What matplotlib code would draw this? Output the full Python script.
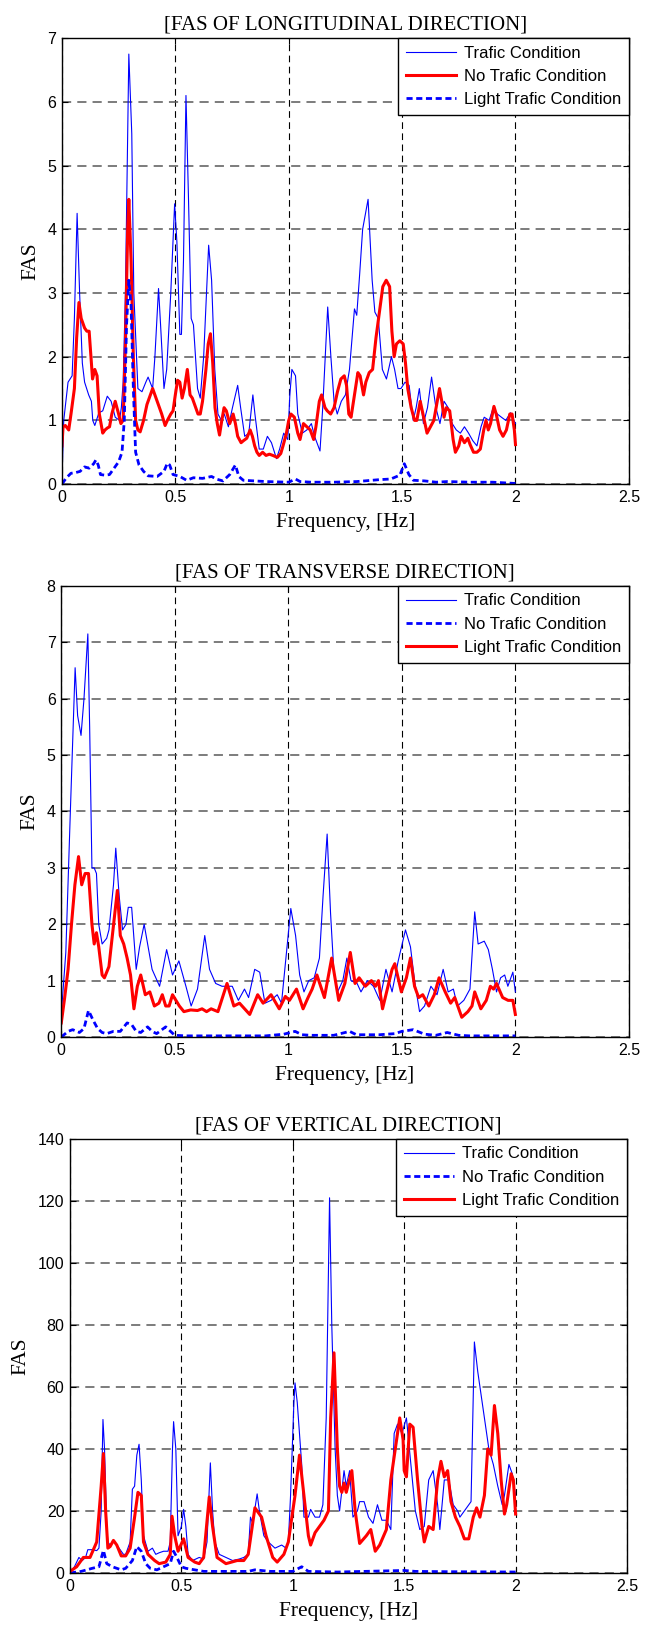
import matplotlib
matplotlib.use('Agg')
import matplotlib.pyplot as plt
import numpy as np
from matplotlib.ticker import FormatStrFormatter

# ---- data: (frequency [Hz], FAS) pairs ----

# longitudinal
long_trafic = [
    (0.0, 0.05), (0.008, 1.0), (0.027, 1.6), (0.045, 1.7), (0.055, 2.6), (0.067, 4.25),
    (0.078, 3.0), (0.09, 1.9), (0.1, 1.6), (0.118, 1.4), (0.13, 1.3), (0.136, 1.0),
    (0.145, 0.92), (0.163, 1.12), (0.18, 1.15), (0.2, 1.38), (0.217, 1.3), (0.235, 1.05),
    (0.254, 1.0), (0.262, 1.2), (0.27, 1.6), (0.28, 3.0), (0.295, 6.75), (0.308, 5.5),
    (0.317, 3.0), (0.335, 1.5), (0.353, 1.45), (0.37, 1.6), (0.38, 1.68), (0.4, 1.5),
    (0.41, 2.0), (0.426, 3.07), (0.435, 2.5), (0.45, 1.5), (0.462, 1.8), (0.48, 3.0),
    (0.497, 4.4), (0.507, 3.8), (0.52, 2.35), (0.527, 2.35), (0.536, 3.5), (0.547, 6.1),
    (0.558, 4.5), (0.57, 2.6), (0.58, 2.5), (0.598, 1.5), (0.61, 1.35), (0.625, 2.0),
    (0.647, 3.75), (0.66, 3.2), (0.674, 1.8), (0.688, 1.1), (0.703, 1.0), (0.716, 1.1),
    (0.734, 0.9), (0.752, 1.2), (0.775, 1.55), (0.788, 1.2), (0.806, 0.75), (0.824, 0.8),
    (0.842, 1.4), (0.851, 1.1), (0.87, 0.55), (0.888, 0.55), (0.906, 0.75), (0.924, 0.65),
    (0.946, 0.4), (0.96, 0.55), (0.978, 0.8), (0.996, 0.7), (1.005, 1.4), (1.014, 1.8),
    (1.03, 1.7), (1.04, 1.1), (1.06, 0.8), (1.08, 0.85), (1.1, 0.95), (1.114, 0.75),
    (1.138, 0.52), (1.15, 1.2), (1.172, 2.78), (1.186, 2.0), (1.2, 1.3), (1.214, 1.1),
    (1.232, 1.3), (1.25, 1.4), (1.268, 1.8), (1.29, 2.75), (1.3, 2.65), (1.313, 3.3),
    (1.326, 4.0), (1.35, 4.47), (1.368, 3.2), (1.38, 2.7), (1.395, 2.6), (1.413, 1.8),
    (1.431, 1.65), (1.453, 2.0), (1.467, 1.8), (1.482, 1.5), (1.495, 1.5), (1.513, 1.6),
    (1.531, 1.55), (1.549, 1.0), (1.562, 1.2), (1.576, 1.5), (1.594, 0.95), (1.612, 1.2),
    (1.63, 1.68), (1.649, 1.2), (1.667, 0.95), (1.685, 1.3), (1.703, 1.2), (1.721, 0.95),
    (1.739, 0.85), (1.757, 0.8), (1.775, 0.9), (1.793, 0.8), (1.812, 0.68), (1.83, 0.6),
    (1.848, 0.9), (1.862, 1.05), (1.884, 1.0), (1.902, 1.2), (1.92, 1.1), (1.938, 1.05),
    (1.957, 1.0), (1.978, 1.12), (1.993, 1.0), (2.0, 0.95),
]
long_no_trafic = [
    (0.0, 0.6), (0.005, 0.9), (0.015, 0.92), (0.03, 0.85), (0.04, 1.1), (0.055, 1.5),
    (0.065, 2.3), (0.075, 2.85), (0.085, 2.6), (0.1, 2.45), (0.11, 2.4), (0.12, 2.4),
    (0.135, 1.65), (0.145, 1.8), (0.155, 1.7), (0.165, 1.1), (0.18, 0.8), (0.19, 0.85),
    (0.2, 0.88), (0.21, 0.9), (0.22, 1.1), (0.235, 1.3), (0.25, 1.1), (0.26, 0.95),
    (0.27, 1.0), (0.28, 2.2), (0.29, 4.0), (0.295, 4.47), (0.305, 3.5), (0.315, 2.0),
    (0.325, 1.0), (0.335, 0.85), (0.345, 0.82), (0.36, 1.0), (0.375, 1.25), (0.39, 1.4),
    (0.4, 1.5), (0.41, 1.4), (0.42, 1.3), (0.43, 1.2), (0.44, 1.1), (0.455, 0.92),
    (0.465, 1.0), (0.48, 1.1), (0.49, 1.15), (0.5, 1.4), (0.51, 1.63), (0.52, 1.6),
    (0.53, 1.35), (0.54, 1.5), (0.553, 1.8), (0.565, 1.4), (0.575, 1.35), (0.59, 1.2),
    (0.6, 1.1), (0.61, 1.1), (0.62, 1.3), (0.635, 1.8), (0.645, 2.2), (0.655, 2.36),
    (0.665, 1.9), (0.675, 1.2), (0.685, 0.95), (0.695, 0.77), (0.705, 1.0), (0.715, 1.2),
    (0.725, 1.15), (0.74, 0.95), (0.755, 1.1), (0.765, 0.95), (0.775, 0.75), (0.79, 0.65),
    (0.8, 0.68), (0.815, 0.72), (0.83, 0.85), (0.84, 0.75), (0.85, 0.6), (0.86, 0.5),
    (0.87, 0.45), (0.885, 0.5), (0.9, 0.45), (0.915, 0.47), (0.93, 0.45), (0.95, 0.42),
    (0.965, 0.48), (0.975, 0.6), (0.99, 0.8), (1.0, 1.0), (1.01, 1.1), (1.025, 1.05),
    (1.04, 0.8), (1.05, 0.7), (1.065, 0.95), (1.08, 0.9), (1.095, 0.85), (1.11, 0.7),
    (1.12, 0.9), (1.135, 1.3), (1.145, 1.4), (1.16, 1.2), (1.17, 1.15), (1.185, 1.1),
    (1.2, 1.2), (1.215, 1.45), (1.23, 1.65), (1.245, 1.7), (1.255, 1.55), (1.265, 1.1),
    (1.275, 1.05), (1.29, 1.4), (1.305, 1.75), (1.315, 1.7), (1.33, 1.4), (1.34, 1.6),
    (1.355, 1.75), (1.37, 1.8), (1.385, 2.3), (1.4, 2.7), (1.415, 3.1), (1.43, 3.2),
    (1.445, 3.1), (1.455, 2.4), (1.465, 2.0), (1.475, 2.2), (1.49, 2.25), (1.505, 2.2),
    (1.515, 1.9), (1.525, 1.5), (1.54, 1.2), (1.555, 1.0), (1.565, 1.0), (1.58, 1.3),
    (1.595, 1.05), (1.61, 0.8), (1.625, 0.9), (1.64, 1.0), (1.655, 1.3), (1.665, 1.5),
    (1.675, 1.3), (1.685, 1.05), (1.695, 1.2), (1.71, 1.15), (1.725, 0.7), (1.735, 0.5),
    (1.75, 0.6), (1.76, 0.75), (1.775, 0.65), (1.79, 0.72), (1.8, 0.62), (1.815, 0.5),
    (1.83, 0.5), (1.845, 0.55), (1.86, 0.85), (1.87, 1.0), (1.88, 0.85), (1.89, 0.95),
    (1.905, 1.22), (1.915, 1.1), (1.93, 0.85), (1.945, 0.75), (1.96, 0.85), (1.975, 1.1),
    (1.985, 1.1), (1.995, 0.85), (2.0, 0.62),
]
long_light = [
    (0.0, 0.0), (0.02, 0.1), (0.04, 0.17), (0.06, 0.18), (0.08, 0.2), (0.1, 0.27),
    (0.12, 0.25), (0.14, 0.32), (0.15, 0.38), (0.16, 0.3), (0.17, 0.15), (0.19, 0.14),
    (0.21, 0.15), (0.23, 0.25), (0.25, 0.35), (0.265, 0.5), (0.275, 1.0), (0.285, 2.5),
    (0.295, 3.2), (0.305, 2.8), (0.315, 1.5), (0.325, 0.5), (0.34, 0.3), (0.36, 0.2),
    (0.38, 0.13), (0.42, 0.12), (0.45, 0.2), (0.465, 0.33), (0.475, 0.3), (0.49, 0.15),
    (0.52, 0.12), (0.55, 0.06), (0.58, 0.1), (0.62, 0.09), (0.66, 0.12), (0.68, 0.08),
    (0.71, 0.05), (0.74, 0.15), (0.765, 0.3), (0.78, 0.12), (0.8, 0.06), (0.85, 0.05),
    (0.9, 0.04), (1.0, 0.03), (1.03, 0.08), (1.05, 0.04), (1.1, 0.03), (1.2, 0.03),
    (1.3, 0.04), (1.4, 0.07), (1.45, 0.08), (1.49, 0.14), (1.51, 0.32), (1.53, 0.15),
    (1.55, 0.06), (1.6, 0.05), (1.65, 0.03), (1.7, 0.04), (1.8, 0.03), (1.9, 0.03),
    (2.0, 0.01),
]

# transverse
trans_trafic = [
    (0.0, 0.4), (0.02, 1.5), (0.04, 4.0), (0.061, 6.55), (0.072, 5.7), (0.087, 5.35),
    (0.1, 6.0), (0.117, 7.15), (0.125, 5.5), (0.135, 3.0), (0.145, 3.0), (0.155, 2.9),
    (0.165, 2.0), (0.18, 1.65), (0.2, 1.75), (0.21, 1.9), (0.23, 2.7), (0.24, 3.35),
    (0.255, 2.5), (0.27, 1.9), (0.285, 2.0), (0.295, 2.3), (0.31, 2.3), (0.33, 1.2),
    (0.345, 1.6), (0.365, 2.0), (0.4, 1.2), (0.433, 0.9), (0.464, 1.55), (0.49, 1.1),
    (0.518, 1.35), (0.549, 0.9), (0.572, 0.55), (0.6, 0.85), (0.632, 1.8), (0.653, 1.2),
    (0.68, 0.95), (0.708, 0.9), (0.753, 0.9), (0.78, 0.65), (0.807, 0.85), (0.825, 0.7),
    (0.852, 1.2), (0.874, 1.15), (0.897, 0.6), (0.924, 0.65), (0.951, 0.75), (0.97, 0.6),
    (0.987, 1.3), (1.011, 2.28), (1.032, 1.8), (1.05, 1.1), (1.069, 0.8), (1.09, 1.0),
    (1.114, 1.05), (1.137, 1.4), (1.153, 2.5), (1.171, 3.6), (1.186, 2.2), (1.2, 1.2),
    (1.217, 0.8), (1.24, 1.0), (1.258, 1.4), (1.276, 1.0), (1.303, 0.95), (1.32, 0.8),
    (1.348, 1.0), (1.375, 0.9), (1.403, 0.65), (1.43, 1.2), (1.457, 0.8), (1.484, 1.35),
    (1.516, 1.9), (1.538, 1.6), (1.556, 1.0), (1.578, 0.45), (1.6, 0.55), (1.628, 0.9),
    (1.655, 0.75), (1.682, 1.2), (1.704, 0.8), (1.727, 0.85), (1.745, 0.55), (1.773, 0.65),
    (1.8, 0.85), (1.821, 2.22), (1.836, 1.65), (1.863, 1.7), (1.881, 1.55), (1.899, 1.2),
    (1.917, 0.8), (1.935, 1.05), (1.953, 1.1), (1.967, 0.9), (1.989, 1.15), (2.0, 0.8),
]
trans_no_trafic = [
    (0.0, 0.0), (0.03, 0.1), (0.05, 0.13), (0.08, 0.08), (0.1, 0.15), (0.12, 0.47),
    (0.14, 0.3), (0.16, 0.15), (0.18, 0.08), (0.2, 0.06), (0.23, 0.1), (0.26, 0.1),
    (0.29, 0.25), (0.31, 0.22), (0.33, 0.1), (0.35, 0.08), (0.38, 0.18), (0.4, 0.1),
    (0.42, 0.06), (0.46, 0.18), (0.5, 0.03), (0.55, 0.02), (0.6, 0.02), (0.7, 0.02),
    (0.8, 0.02), (0.9, 0.02), (0.98, 0.05), (1.03, 0.1), (1.06, 0.04), (1.1, 0.03),
    (1.2, 0.03), (1.27, 0.1), (1.3, 0.04), (1.4, 0.04), (1.47, 0.06), (1.5, 0.1),
    (1.55, 0.13), (1.6, 0.05), (1.65, 0.03), (1.7, 0.08), (1.75, 0.03), (1.8, 0.02),
    (2.0, 0.02),
]
trans_light = [
    (0.0, 0.25), (0.015, 0.7), (0.03, 1.2), (0.045, 2.0), (0.06, 2.7), (0.076, 3.2),
    (0.09, 2.7), (0.105, 2.9), (0.12, 2.9), (0.135, 2.0), (0.145, 1.65), (0.155, 1.85),
    (0.165, 1.6), (0.18, 1.1), (0.19, 1.05), (0.21, 1.25), (0.225, 1.8), (0.247, 2.6),
    (0.26, 1.8), (0.275, 1.65), (0.29, 1.4), (0.305, 1.1), (0.32, 0.5), (0.335, 0.9),
    (0.35, 1.1), (0.37, 0.75), (0.39, 0.8), (0.41, 0.55), (0.43, 0.6), (0.445, 0.75),
    (0.46, 0.55), (0.475, 0.55), (0.49, 0.75), (0.52, 0.55), (0.54, 0.45), (0.57, 0.48),
    (0.6, 0.47), (0.62, 0.5), (0.64, 0.45), (0.66, 0.5), (0.69, 0.45), (0.73, 0.95),
    (0.76, 0.55), (0.785, 0.6), (0.83, 0.4), (0.865, 0.75), (0.889, 0.6), (0.924, 0.75),
    (0.96, 0.5), (0.987, 0.72), (1.005, 0.65), (1.036, 0.85), (1.065, 0.5), (1.087, 0.7),
    (1.105, 0.85), (1.126, 1.1), (1.159, 0.7), (1.191, 1.4), (1.222, 0.65), (1.249, 0.95),
    (1.273, 1.5), (1.294, 0.95), (1.312, 1.05), (1.339, 0.9), (1.366, 1.0), (1.384, 0.9),
    (1.397, 1.0), (1.415, 0.5), (1.439, 0.9), (1.457, 1.2), (1.469, 1.3), (1.498, 0.8),
    (1.52, 1.05), (1.538, 1.4), (1.556, 0.9), (1.574, 0.7), (1.592, 0.75), (1.619, 0.55),
    (1.643, 0.75), (1.664, 1.05), (1.691, 0.8), (1.715, 0.6), (1.733, 0.7), (1.764, 0.35),
    (1.791, 0.45), (1.809, 0.55), (1.821, 0.8), (1.848, 0.5), (1.872, 0.65), (1.89, 0.9),
    (1.904, 0.85), (1.917, 0.95), (1.944, 0.7), (1.968, 0.65), (1.989, 0.65), (2.0, 0.4),
]

# vertical
vert_trafic = [
    (0.0, 0.0), (0.02, 2.0), (0.04, 5.0), (0.055, 4.0), (0.07, 5.0), (0.08, 7.5),
    (0.1, 7.5), (0.12, 7.2), (0.13, 8.0), (0.14, 20.0), (0.148, 49.5), (0.155, 40.0),
    (0.165, 15.0), (0.17, 10.0), (0.18, 9.0), (0.19, 10.0), (0.2, 10.0), (0.22, 8.0),
    (0.24, 6.0), (0.25, 6.0), (0.27, 10.0), (0.28, 27.0), (0.29, 28.0), (0.3, 38.0),
    (0.31, 41.5), (0.32, 30.0), (0.33, 12.0), (0.35, 7.0), (0.37, 8.0), (0.385, 6.0),
    (0.4, 6.5), (0.42, 7.0), (0.44, 7.0), (0.45, 10.0), (0.46, 40.0), (0.465, 48.8),
    (0.475, 40.0), (0.485, 12.0), (0.5, 15.0), (0.51, 20.5), (0.52, 15.0), (0.53, 6.0),
    (0.55, 4.0), (0.58, 5.0), (0.6, 4.5), (0.615, 10.0), (0.63, 35.5), (0.64, 20.0),
    (0.65, 10.0), (0.67, 6.0), (0.7, 5.0), (0.73, 4.0), (0.76, 4.5), (0.78, 5.0),
    (0.8, 6.0), (0.81, 18.0), (0.82, 16.0), (0.84, 25.5), (0.85, 20.0), (0.87, 12.0),
    (0.89, 10.0), (0.92, 8.0), (0.95, 9.0), (0.97, 8.0), (0.98, 10.0), (0.99, 25.0),
    (1.005, 55.0), (1.01, 61.3), (1.02, 55.0), (1.04, 35.0), (1.05, 18.0), (1.07, 18.0),
    (1.08, 20.5), (1.1, 18.0), (1.12, 18.0), (1.135, 22.0), (1.15, 50.0), (1.165, 121.0),
    (1.175, 80.0), (1.19, 40.0), (1.2, 25.0), (1.21, 20.0), (1.23, 33.0), (1.24, 28.0),
    (1.255, 33.0), (1.27, 18.0), (1.29, 20.0), (1.3, 23.0), (1.32, 23.0), (1.34, 18.0),
    (1.36, 16.0), (1.38, 22.0), (1.4, 17.0), (1.42, 17.0), (1.44, 14.0), (1.455, 45.0),
    (1.47, 48.0), (1.49, 45.0), (1.51, 50.0), (1.53, 35.0), (1.55, 20.0), (1.57, 14.0),
    (1.59, 15.0), (1.61, 30.0), (1.63, 33.0), (1.65, 22.0), (1.66, 14.0), (1.68, 30.0),
    (1.7, 30.0), (1.72, 22.0), (1.74, 20.0), (1.75, 18.0), (1.77, 20.0), (1.79, 22.0),
    (1.8, 23.0), (1.815, 74.5), (1.83, 65.0), (1.85, 55.0), (1.87, 45.0), (1.88, 40.0),
    (1.9, 35.0), (1.92, 28.0), (1.94, 22.0), (1.95, 25.0), (1.97, 35.0), (1.985, 32.0),
    (2.0, 25.0),
]
vert_no_trafic = [
    (0.0, 0.0), (0.05, 0.5), (0.1, 1.5), (0.13, 2.0), (0.15, 7.3), (0.165, 3.0),
    (0.19, 2.0), (0.23, 1.0), (0.25, 1.5), (0.28, 4.0), (0.3, 8.5), (0.32, 7.0),
    (0.34, 3.0), (0.36, 1.5), (0.39, 1.0), (0.42, 2.0), (0.45, 3.0), (0.465, 7.0),
    (0.48, 5.0), (0.5, 2.0), (0.52, 1.5), (0.6, 0.5), (0.7, 0.5), (0.8, 0.5),
    (0.83, 1.0), (0.9, 0.5), (1.0, 0.5), (1.04, 2.0), (1.07, 0.5), (1.2, 0.3),
    (1.5, 0.8), (1.55, 0.5), (1.7, 0.4), (2.0, 0.3),
]
vert_light = [
    (0.0, 0.5), (0.03, 2.0), (0.06, 5.0), (0.09, 5.0), (0.12, 10.0), (0.14, 28.0),
    (0.15, 38.5), (0.16, 20.0), (0.17, 8.0), (0.18, 8.5), (0.195, 10.5), (0.21, 9.0),
    (0.23, 5.5), (0.25, 5.5), (0.27, 8.0), (0.29, 18.0), (0.305, 26.0), (0.32, 25.0),
    (0.33, 10.0), (0.35, 6.0), (0.38, 4.0), (0.4, 3.0), (0.43, 3.5), (0.45, 6.0),
    (0.458, 18.3), (0.47, 12.0), (0.485, 7.0), (0.51, 11.0), (0.53, 5.0), (0.56, 3.5),
    (0.58, 3.0), (0.6, 5.0), (0.625, 24.5), (0.64, 15.0), (0.66, 5.0), (0.7, 3.0),
    (0.75, 4.0), (0.78, 4.0), (0.8, 6.0), (0.83, 21.0), (0.86, 18.0), (0.88, 12.0),
    (0.91, 5.0), (0.93, 3.5), (0.96, 6.0), (0.98, 10.0), (1.01, 25.0), (1.03, 38.0),
    (1.05, 25.0), (1.07, 12.0), (1.08, 9.0), (1.1, 13.0), (1.12, 15.0), (1.14, 17.0),
    (1.16, 20.0), (1.17, 50.0), (1.185, 71.0), (1.2, 40.0), (1.21, 28.0), (1.22, 26.0),
    (1.23, 29.0), (1.24, 26.0), (1.265, 33.0), (1.28, 20.0), (1.3, 9.5), (1.33, 12.0),
    (1.35, 14.0), (1.37, 7.0), (1.39, 9.0), (1.42, 14.0), (1.44, 30.0), (1.46, 40.0),
    (1.48, 50.0), (1.495, 43.0), (1.5, 33.0), (1.51, 31.0), (1.525, 48.0), (1.54, 47.0),
    (1.56, 30.0), (1.58, 15.0), (1.59, 10.0), (1.61, 15.0), (1.63, 14.0), (1.65, 30.0),
    (1.665, 36.0), (1.68, 31.0), (1.695, 33.0), (1.71, 23.0), (1.73, 18.0), (1.75, 15.0),
    (1.77, 11.0), (1.79, 11.0), (1.81, 18.0), (1.825, 21.0), (1.84, 18.0), (1.86, 25.0),
    (1.875, 40.0), (1.89, 38.0), (1.905, 54.0), (1.92, 45.0), (1.935, 30.0), (1.95, 19.0),
    (1.96, 22.0), (1.98, 32.0), (1.99, 30.0), (2.0, 19.0),
]

x_ticks = [0, 0.5, 1, 1.5, 2, 2.5]

# line styles
thin_blue = dict(color='#0000ff', lw=0.8, linestyle='-')
thick_red = dict(color='#ff0000', lw=2.2, linestyle='-')
dash_blue = dict(color='#0000ff', lw=2.0, linestyle=(0, (2.2, 1.3)))

serif = 'Liberation Serif'
sans = 'Liberation Sans'


def panel(pos, title, ymax, yticks, series):
    ax = fig.add_axes(pos)
    for pts, style, label in series:
        f, a = np.array(pts).T
        ax.plot(f, a, label=label, **style)
    ax.set_xlim(0, 2.5)
    ax.set_ylim(0, ymax)
    ax.set_xticks(x_ticks)
    ax.set_yticks(yticks)
    ax.xaxis.set_major_formatter(FormatStrFormatter('%g'))
    ax.tick_params(direction='in', length=4, top=True, right=True,
                   labelsize=11.5, pad=4)
    for lab in ax.get_xticklabels() + ax.get_yticklabels():
        lab.set_family(sans)
    # matlab-like dashed grid
    ax.xaxis.grid(True, color='k', lw=0.8, linestyle=(0, (6, 4)))
    ax.yaxis.grid(True, color='0.35', lw=1.1, linestyle=(0, (6, 4)))
    for s in ax.spines.values():
        s.set_linewidth(1.0)
    ax.set_title(title, family=serif, fontsize=15, pad=6)
    ax.set_xlabel('Frequency, [Hz]', family=serif, fontsize=15.5, labelpad=6)
    ax.set_ylabel('FAS', family=serif, fontsize=15.5, labelpad=5)
    leg = ax.legend(loc='upper right', borderaxespad=0, fancybox=False,
                    framealpha=1, edgecolor='k', handlelength=3.0,
                    handletextpad=0.5, labelspacing=0.5, borderpad=0.45,
                    prop={'family': sans, 'size': 12})
    leg.get_frame().set_linewidth(1.0)
    return ax


fig = plt.figure(figsize=(6.45, 16.3), dpi=100)

panel([0.096, 0.703, 0.879, 0.2736], '[FAS OF LONGITUDINAL DIRECTION]', 7, range(0, 8),
      [(long_trafic, thin_blue, 'Trafic Condition'),
       (long_no_trafic, thick_red, 'No Trafic Condition'),
       (long_light, dash_blue, 'Light Trafic Condition')])

panel([0.095, 0.3638, 0.880, 0.2767], '[FAS OF TRANSVERSE DIRECTION]', 8, range(0, 9),
      [(trans_trafic, thin_blue, 'Trafic Condition'),
       (trans_no_trafic, dash_blue, 'No Trafic Condition'),
       (trans_light, thick_red, 'Light Trafic Condition')])

panel([0.1085, 0.035, 0.8636, 0.2663], '[FAS OF VERTICAL DIRECTION]', 140, range(0, 141, 20),
      [(vert_trafic, thin_blue, 'Trafic Condition'),
       (vert_no_trafic, dash_blue, 'No Trafic Condition'),
       (vert_light, thick_red, 'Light Trafic Condition')])

plt.savefig('out.png', dpi=100)
plt.close()
